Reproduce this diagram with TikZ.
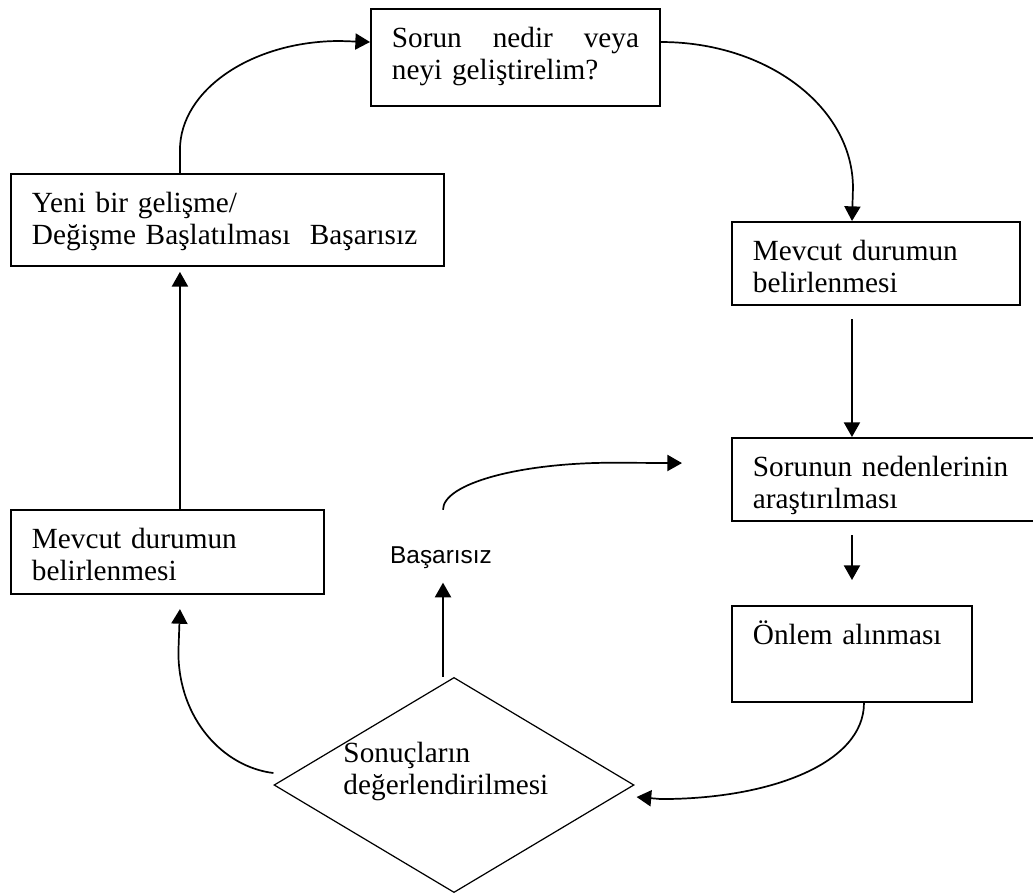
\documentclass[tikz,border=0pt]{standalone}
\usepackage{fontspec}
\setmainfont{Liberation Serif}
\setsansfont{Liberation Sans}
\usepackage{tikz}
\usetikzlibrary{shapes.geometric,arrows.meta}
\newcommand{\pxu}{0.41pt}
\newcommand{\boxlw}{0.8pt}
\newcommand{\arrlw}{0.7pt}
\tikzset{
	BoxStyle/.style = {draw, line width=\boxlw, rectangle, anchor=north west, align=left,
		inner xsep=8.6pt, inner ysep=0pt, text height=15.6pt,
		font=\fontsize{12}{13.5}\selectfont},
	DiamondStyle/.style = {draw, shape=diamond, line width=0.5pt,
		minimum width=147.6pt, minimum height=88.2pt, inner sep=0pt},
	DiamondText/.style = {anchor=base west, text width=90pt, align=left, inner sep=0pt,
		font=\fontsize{12}{13.5}\selectfont},
	LabelStyle/.style = {anchor=base, inner sep=0pt, font=\sffamily\fontsize{10}{12}\selectfont},
	ArrowStyle/.style = {line width=\arrlw, -{Triangle[length=6pt,width=6.6pt]}}
}

\begin{document}
\begin{tikzpicture}[x=\pxu, y=\pxu]
	
	\useasboundingbox (0,0) rectangle (1033,893);
	%\draw[help lines,step=50] (0,0) grid (1033,893);
	\node[BoxStyle, text width=101.3pt, text depth=24.2pt] (sorun) at (370,885)
		{Sorun\hfill nedir\hfill veya\\neyi geliştirelim?};
	\node[BoxStyle, text width=160.3pt, text depth=22.1pt] (yeni) at (10,720)
		{Yeni bir gelişme/\\Değişme Başlatılması\ \ Başarısız};
	\node[BoxStyle, text width=100.9pt, text depth=18.5pt] (mevcut) at (731,672)
		{Mevcut durumun\\belirlenmesi};
	\node[BoxStyle, text width=110.7pt, text depth=18.5pt] (neden) at (731,456)
		{Sorunun nedenlerinin\\araştırılması};
	\node[BoxStyle, text width=81.2pt, text depth=23.8pt] (onlem) at (731,288)
		{Önlem alınması};
	\node[BoxStyle, text width=111.1pt, text depth=18.9pt] (mevcutb) at (10,384)
		{Mevcut durumun\\belirlenmesi};
	\node[DiamondStyle] (deger) at (454,108) {};
	\node[DiamondText] (degertext) at (343,131) {Sonuçların\\değerlendirilmesi};
	\node[LabelStyle] (basarisiz) at (441,330) {Başarısız};
	
	\draw[ArrowStyle] ([shift={(-47.5,0)}]yeni.north) -- ++(0,23)
		.. controls +(0,60) and +(-88,0) .. ++(160,109) -- ([shift={(0,15.5)}]sorun.west);
	\draw[ArrowStyle] ([shift={(0,15.5)}]sorun.east)
		.. controls +(106,0) and +(0,81) .. ++(192,-146) -- ([shift={(-24,0)}]mevcut.north);
	\draw[ArrowStyle] ([shift={(-24,-13)}]mevcut.south) -- ([shift={(-36,0)}]neden.north);
	\draw[ArrowStyle] ([shift={(-36,-13)}]neden.south) -- ([shift={(0,25)}]onlem.north);
	\draw[ArrowStyle] ([shift={(12,0)}]onlem.south)
		.. controls +(0,-60) and +(110,0) .. ++(-203,-96) -- ([shift={(2,-12)}]deger.east);
	\draw[ArrowStyle] ([shift={(-11,0)}]deger.north) -- ([shift={(2,-14)}]basarisiz.south);
	\draw[ArrowStyle] ([shift={(2,36)}]basarisiz.north)
		.. controls +(0,26) and +(-94,0) .. ++(170,47) -- ([shift={(-49,16.5)}]neden.west);
	\draw[ArrowStyle] ([shift={(0,12)}]deger.west)
		.. controls +(-50,6) and +(0,-67) .. ++(-95,121) -- ([shift={(12.5,-14)}]mevcutb.south);
	\draw[ArrowStyle] ([shift={(12.5,0)}]mevcutb.north) -- ([shift={(-47.5,-5)}]yeni.south);
	
\end{tikzpicture}
\end{document}
